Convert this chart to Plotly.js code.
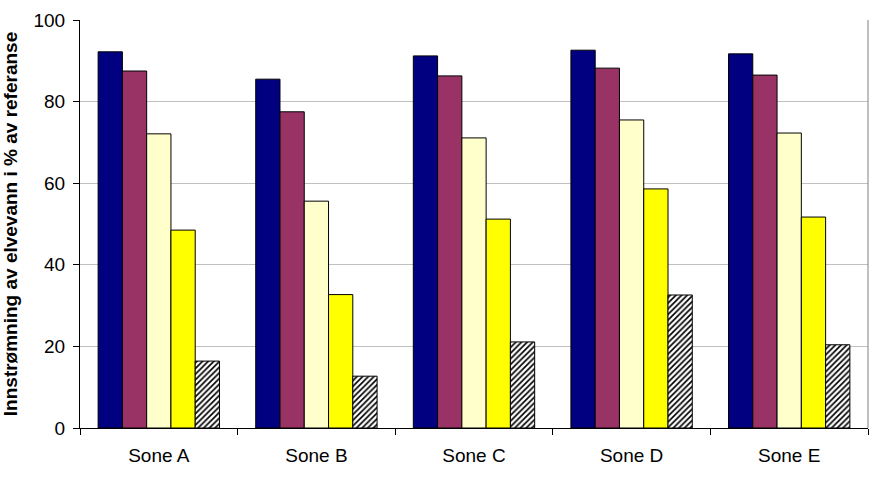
<!DOCTYPE html>
<html>
<head>
<meta charset="utf-8">
<script src="https://cdn.plot.ly/plotly-3.0.1.min.js"></script>
<style>html,body{margin:0;padding:0;background:#fff;}#chart{width:889px;height:488px;}</style>
</head>
<body>
<div id="chart"></div>
<script>
const categories = ["Sone A", "Sone B", "Sone C", "Sone D", "Sone E"];
const series1 = [92.2, 85.5, 91.2, 92.6, 91.7];
const series2 = [87.5, 77.5, 86.3, 88.2, 86.5];
const series3 = [72.1, 55.6, 71.1, 75.5, 72.3];
const series4 = [48.5, 32.7, 51.2, 58.6, 51.7];
const series5 = [16.4, 12.7, 21.1, 32.6, 20.4];
const yTickVals = [0, 20, 40, 60, 80, 100];
const yTitle = "Innstrømning av elvevann i % av referanse";

const fills = ["#000080", "#993366", "#FFFFCC", "#FFFF00", "#FFFFFF"];
const allSeries = [series1, series2, series3, series4, series5];

const traces = allSeries.map((vals, i) => {
  const t = {
    type: "bar",
    x: categories,
    y: vals,
    marker: {color: fills[i], line: {color: "#000000", width: 1}},
    hoverinfo: "y"
  };
  if (i === 4) {
    t.marker.pattern = {shape: "/", fgcolor: "#000000", bgcolor: "#FFFFFF", size: 4, solidity: 0.42, fillmode: "replace"};
  }
  return t;
});

const font = "Arial, 'Liberation Sans', sans-serif";
const layout = {
  width: 889, height: 488,
  margin: {l: 80, r: 21, t: 20, b: 60},
  paper_bgcolor: "#ffffff",
  plot_bgcolor: "#ffffff",
  showlegend: false,
  barmode: "group",
  bargap: 0.23,
  bargroupgap: 0,
  font: {family: font, size: 19, color: "#000"},
  xaxis: {
    type: "category",
    showline: true, linecolor: "#000", linewidth: 1,
    ticks: "outside", ticklen: 6, tickcolor: "#000", tickson: "boundaries",
    showgrid: false, zeroline: false,
    ticklabelstandoff: 10,
    tickfont: {family: font, size: 19, color: "#000"}
  },
  yaxis: {
    range: [0, 100], tickvals: yTickVals,
    showline: true, linecolor: "#000", linewidth: 1,
    ticks: "outside", ticklen: 6, tickcolor: "#000",
    showgrid: true, gridcolor: "#c0c0c0", gridwidth: 1,
    zeroline: false,
    ticklabelstandoff: 4,
    tickfont: {family: font, size: 19, color: "#000"},
    title: {text: yTitle, font: {family: font, size: 19, color: "#000", weight: "bold"}, standoff: 10}
  },
  shapes: [
    {type: "line", xref: "paper", yref: "paper", x0: 1, x1: 1, y0: 0, y1: 1, line: {color: "#808080", width: 1}}
  ]
};

Plotly.newPlot("chart", traces, layout, {displayModeBar: false, staticPlot: true});
</script>
</body>
</html>
